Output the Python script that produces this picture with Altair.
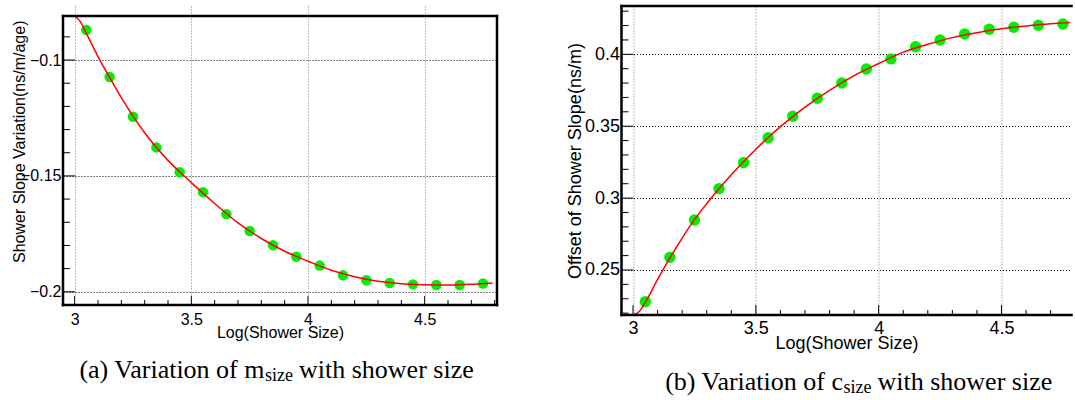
import altair as alt
import pandas as pd

# ---------------- data ----------------
size_bins = [3.05, 3.15, 3.25, 3.35, 3.45, 3.55, 3.65, 3.75, 3.85, 3.95,
             4.05, 4.15, 4.25, 4.35, 4.45, 4.55, 4.65, 4.75]

m_size = [-0.0870, -0.1073, -0.1245, -0.1377, -0.1484, -0.1570, -0.1665, -0.1738,
          -0.1799, -0.1849, -0.1887, -0.1929, -0.1950, -0.1962, -0.1968, -0.1971,
          -0.1971, -0.1964]

c_size = [0.2280, 0.2588, 0.2848, 0.3066, 0.3247, 0.3420, 0.3569, 0.3694,
          0.3801, 0.3898, 0.3968, 0.4053, 0.4100, 0.4141, 0.4174, 0.4188,
          0.4202, 0.4211]

m_fit_x = [3.0, 3.025, 3.05, 3.1, 3.15, 3.2, 3.3, 3.4, 3.5, 3.6, 3.7, 3.8, 3.9,
           4.0, 4.1, 4.2, 4.3, 4.4, 4.5, 4.6, 4.7, 4.79]
m_fit_y = [-0.0810, -0.0835, -0.0885, -0.0985, -0.1075, -0.1162, -0.1314, -0.1433,
           -0.1529, -0.1619, -0.1703, -0.1770, -0.1825, -0.1868, -0.1907, -0.1935,
           -0.1955, -0.1965, -0.1970, -0.1971, -0.1968, -0.1962]

c_fit_x = [3.005, 3.025, 3.05, 3.1, 3.15, 3.2, 3.25, 3.3, 3.4, 3.5, 3.6, 3.7, 3.8,
           3.9, 4.0, 4.1, 4.2, 4.3, 4.4, 4.5, 4.6, 4.7, 4.78]
c_fit_y = [0.2190, 0.2212, 0.2275, 0.2435, 0.2585, 0.2722, 0.2850, 0.2962, 0.3162,
           0.3340, 0.3497, 0.3633, 0.3750, 0.3852, 0.3936, 0.4015, 0.4070, 0.4116,
           0.4150, 0.4177, 0.4197, 0.4213, 0.4222]

# axis tick values
a_x_major = [3, 3.5, 4, 4.5]
a_x_minor = [3.1, 3.2, 3.3, 3.4, 3.6, 3.7, 3.8, 3.9, 4.1, 4.2, 4.3, 4.4, 4.6, 4.7, 4.8]
a_y_major = [-0.2, -0.15, -0.1]
a_y_minor = [-0.19, -0.18, -0.17, -0.16, -0.14, -0.13, -0.12, -0.11, -0.09]

b_x_major = [3, 3.5, 4, 4.5]
b_x_minor = [3.1, 3.2, 3.3, 3.4, 3.6, 3.7, 3.8, 3.9, 4.1, 4.2, 4.3, 4.4, 4.6, 4.7]
b_y_major = [0.25, 0.3, 0.35, 0.4]
b_y_minor = [0.22, 0.23, 0.24, 0.26, 0.27, 0.28, 0.29, 0.31, 0.32, 0.33, 0.34,
             0.36, 0.37, 0.38, 0.39, 0.41, 0.42, 0.43]

x_title = "Log(Shower Size)"
a_y_title = "Shower Slope Variation(ns/m/age)"
b_y_title = "Offset of Shower Slope(ns/m)"
a_caption = ["(a) Variation of m", "size", "with shower size"]
b_caption = ["(b) Variation of c", "size", "with shower size"]

SANS = "Liberation Sans"
SERIF = "Liberation Serif"
ONE = pd.DataFrame({"a": [0]})


def text_layer(t, x, align, y, size):
    return alt.Chart(pd.DataFrame({"t": [t]})).mark_text(
        font=SERIF, fontSize=size, align=align, baseline="alphabetic", color="black"
    ).encode(x=alt.value(x), y=alt.value(y), text="t:N")


def frame_rule(x, x2, y, y2):
    return alt.Chart(ONE).mark_rule(color="black", strokeWidth=2.5, strokeCap="square").encode(
        x=alt.value(x), x2=alt.value(x2), y=alt.value(y), y2=alt.value(y2))


def yticks(values, length, ys):
    return alt.Chart(pd.DataFrame({"v": values})).mark_rule(color="black", strokeWidth=1).encode(
        y=alt.Y("v:Q", scale=ys, axis=None), x=alt.value(0), x2=alt.value(length))


def xticks(values, length, xs, bottom):
    return alt.Chart(pd.DataFrame({"v": values})).mark_rule(color="black", strokeWidth=1).encode(
        x=alt.X("v:Q", scale=xs, axis=None), y=alt.value(bottom - length), y2=alt.value(bottom))


def panel(pts_x, pts_y, fit_x, fit_y, xdom, ydom, w, h, top, x_major, x_minor,
          y_major, y_minor, y_title, s, caption, cap_x, cap_y, spacer, right_side):
    pts = pd.DataFrame({"x": pts_x, "y": pts_y})
    fit = pd.DataFrame({"x": fit_x, "y": fit_y})
    xs = alt.Scale(domain=xdom, nice=False, zero=False)
    ys = alt.Scale(domain=ydom, nice=False, zero=False, range=[h, top])

    main_x = alt.Axis(orient="bottom", values=x_major, format="~g", ticks=False,
                      tickSize=0, labelPadding=s["xlp"], labelFont=SANS,
                      labelFontSize=s["lfs"], labelColor="black", grid=True,
                      gridColor="#7a7a7a", gridDash=[1, 2], gridWidth=1,
                      domain=False, title=x_title, titleFont=SANS,
                      titleFontSize=s["tfs"], titleFontWeight="normal",
                      titleColor="black", titleBaseline="alphabetic", titleY=s["xty"])
    ykw = dict(orient="left", values=y_major, format="~g", ticks=False, tickSize=0,
               labelPadding=2, labelFont=SANS, labelFontSize=s["lfs"],
               labelColor="black", grid=True, gridColor="black", gridDash=[1, 2],
               gridWidth=1, domain=False, title=y_title, titleFont=SANS,
               titleFontSize=s["tfs"], titleFontWeight="normal", titleColor="black",
               titleAngle=270, titleBaseline="alphabetic", titleX=s["ytx"])
    if "yty" in s:
        ykw["titleY"] = s["yty"]
        ykw["titleAlign"] = "right"
    main_y = alt.Axis(**ykw)

    l_pts = alt.Chart(pts).mark_circle(size=s["ps"], color="#00f000", opacity=1).encode(
        x=alt.X("x:Q", scale=xs, axis=main_x), y=alt.Y("y:Q", scale=ys, axis=main_y))
    l_fit = alt.Chart(fit).mark_line(color="#ff0000", strokeWidth=1.5, clip=True,
                                     interpolate="monotone").encode(
        x=alt.X("x:Q", scale=xs, axis=None), y=alt.Y("y:Q", scale=ys, axis=None))

    sub_w = 1.555 * s["sub"]
    layers = [l_pts, l_fit,
              yticks(y_major, s["ymt"], ys), yticks(y_minor, s["ynt"], ys),
              xticks(x_major, s["xmt"], xs, h), xticks(x_minor, s["xnt"], xs, h),
              frame_rule(0, w, top, top), frame_rule(0, w, h, h),
              frame_rule(0, 0, top, h),
              text_layer(caption[0], cap_x, "right", cap_y, s["cap"]),
              text_layer(caption[1], cap_x + 0.5, "left", cap_y + 3, s["sub"]),
              text_layer(caption[2], cap_x + sub_w + 0.25 * s["cap"], "left", cap_y, s["cap"]),
              alt.Chart(ONE).mark_rule(opacity=0).encode(
                  x=alt.value(spacer[0]), x2=alt.value(spacer[0] + 1),
                  y=alt.value(spacer[1]))]
    if right_side:
        layers.append(frame_rule(w, w, top, h))
    return alt.layer(*layers).resolve_axis(x="independent", y="independent").properties(
        width=w, height=h,
        view=alt.ViewBackground(stroke="transparent", strokeWidth=0))


left = panel(size_bins, m_size, m_fit_x, m_fit_y, [2.95, 4.81], [-0.2057, -0.081],
             434, 299, 10, a_x_major, a_x_minor, a_y_major, a_y_minor, a_y_title,
             dict(lfs=16, tfs=16, xlp=6, xty=32, ytx=-39, yty=14, ps=110,
                  xmt=9, xnt=5, ymt=12, ynt=7, cap=26, sub=18),
             a_caption, 201.5, 372, (-63, -6), True)

right = panel(size_bins, c_size, c_fit_x, c_fit_y, [2.953, 4.785], [0.2187, 0.4336],
              450, 309, 0, b_x_major, b_x_minor, b_y_major, b_y_minor, b_y_title,
              dict(lfs=18, tfs=18, xlp=4, xty=33, ytx=-41, ps=130,
                   xmt=10, xnt=5, ymt=12, ynt=7, cap=26, sub=18),
              b_caption, 221.5, 384, (-62, -6), False)

chart = alt.hconcat(left, right, spacing=60.5).properties(padding=0).configure(
    background="white")

chart.save("out.html", embed_options={"renderer": "svg", "actions": False})
